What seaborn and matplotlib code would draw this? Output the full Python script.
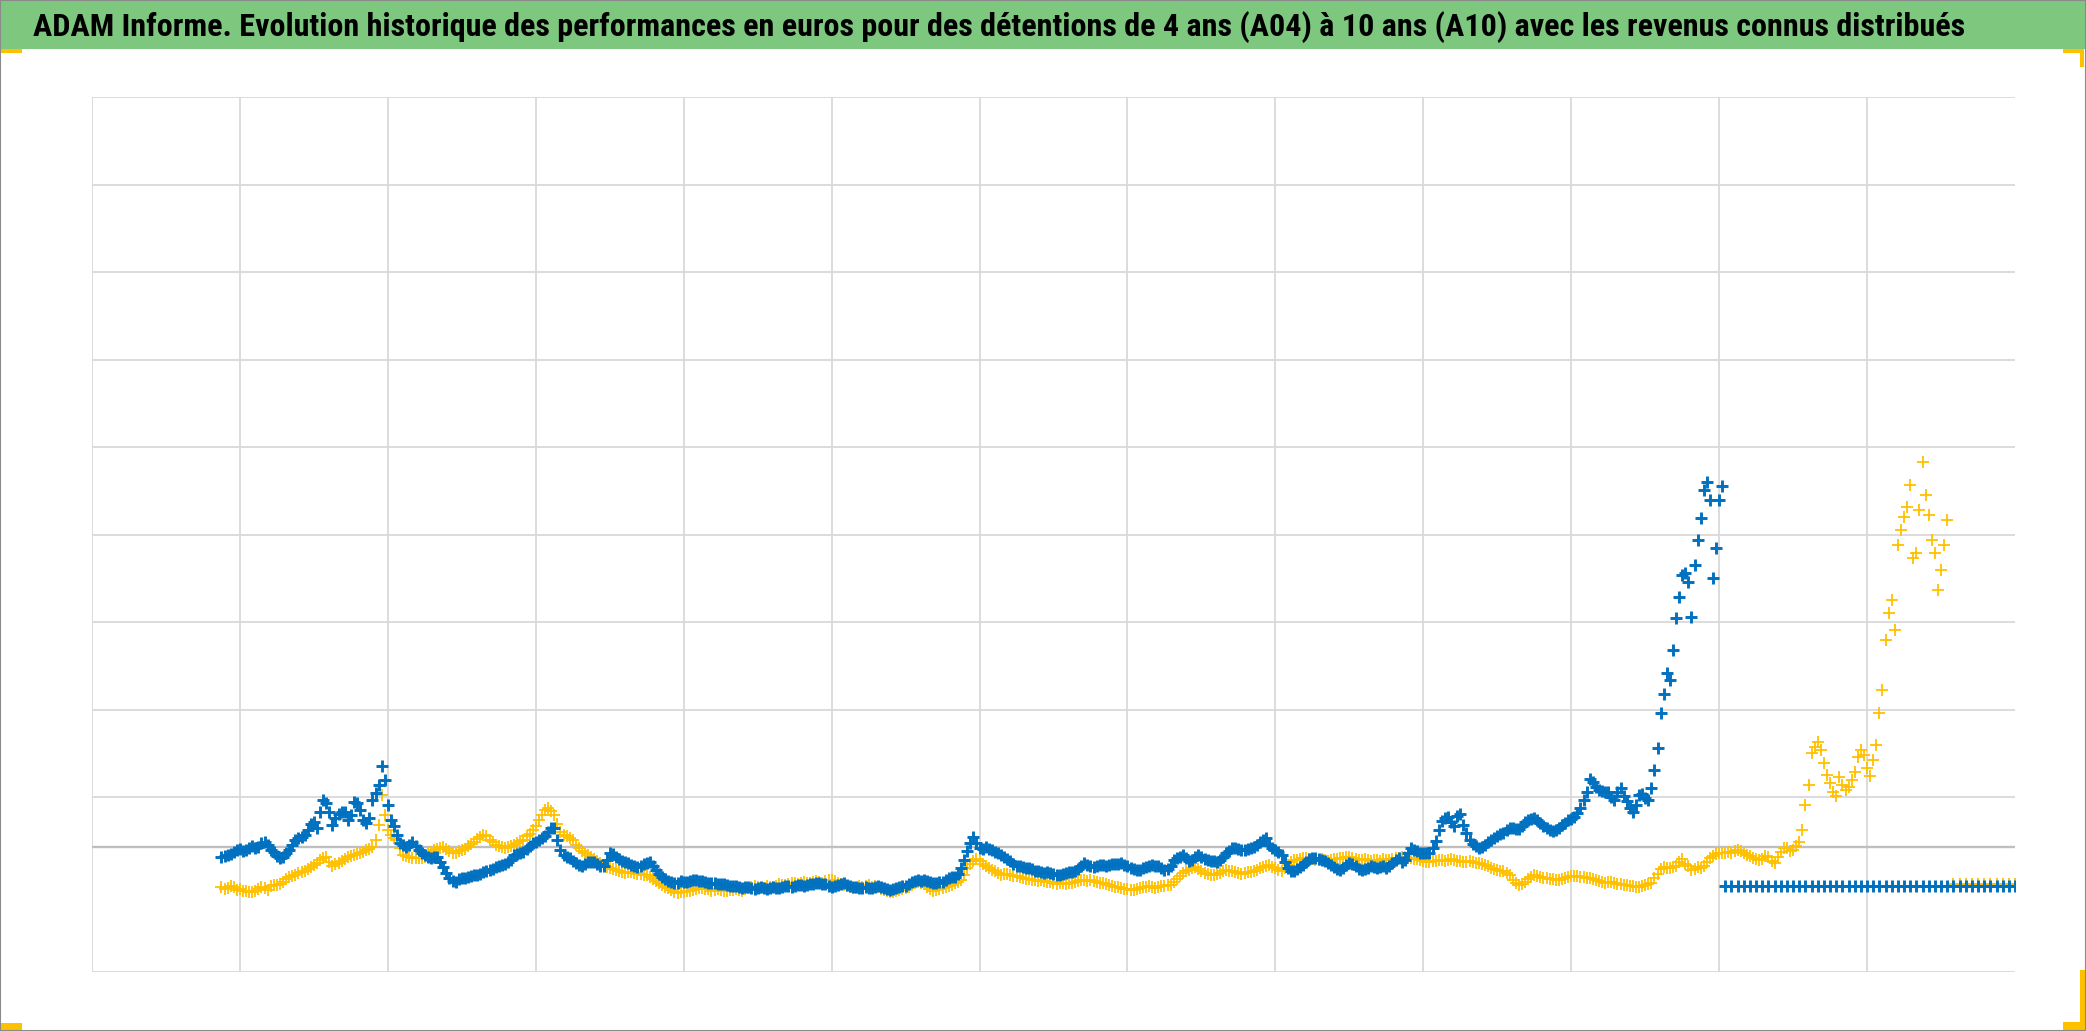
import numpy as np
import pandas as pd
import matplotlib
matplotlib.use("Agg")
import matplotlib.pyplot as plt
import seaborn as sns
from matplotlib import font_manager
from matplotlib.patches import Rectangle

TITLE = ("ADAM Informe. Evolution historique des performances en euros pour des "
         "détentions de 4 ans (A04) à 10 ans (A10) avec les revenus connus distribués")

# series sampled twice a month, first month = October 1999 (decimal years)
START_YEAR = 1999.75

# A04 (blue) : 4-year holding performance, start of each month
a04_values = [
    1.31, 1.34, 1.37, 1.41, 1.39, 1.44, 1.43, 1.49, 1.39, 1.33,
    1.31, 1.39, 1.51, 1.54, 1.62, 1.71, 1.83, 1.93, 1.68, 1.81,
    1.83, 1.79, 1.93, 1.74, 1.76, 2.05, 2.35, 1.91, 1.67, 1.47,
    1.43, 1.49, 1.39, 1.34, 1.30, 1.31, 1.20, 1.07, 1.03, 1.07,
    1.09, 1.11, 1.12, 1.15, 1.18, 1.21, 1.23, 1.28, 1.35, 1.37,
    1.44, 1.49, 1.53, 1.60, 1.65, 1.39, 1.31, 1.27, 1.22, 1.23,
    1.26, 1.23, 1.21, 1.36, 1.31, 1.27, 1.25, 1.21, 1.21, 1.25,
    1.21, 1.12, 1.06, 1.03, 1.02, 1.03, 1.04, 1.05, 1.04, 1.02,
    1.02, 1.01, 0.99, 0.98, 0.97, 0.97, 0.96, 0.96, 0.96, 0.96,
    0.96, 0.97, 0.98, 0.98, 0.99, 0.99, 1.01, 1.02, 1.01, 0.97,
    0.99, 1.02, 0.98, 0.97, 0.96, 0.96, 0.97, 0.97, 0.95, 0.95,
    0.97, 0.98, 1.03, 1.05, 1.05, 1.03, 1.02, 1.03, 1.07, 1.09,
    1.19, 1.38, 1.54, 1.42, 1.43, 1.39, 1.36, 1.31, 1.27, 1.21,
    1.20, 1.19, 1.15, 1.14, 1.14, 1.12, 1.11, 1.13, 1.14, 1.18,
    1.25, 1.21, 1.21, 1.22, 1.22, 1.23, 1.25, 1.21, 1.18, 1.17,
    1.20, 1.22, 1.21, 1.17, 1.21, 1.30, 1.34, 1.27, 1.31, 1.31,
    1.28, 1.27, 1.28, 1.36, 1.42, 1.41, 1.39, 1.42, 1.45, 1.51,
    1.45, 1.39, 1.34, 1.19, 1.15, 1.20, 1.26, 1.30, 1.29, 1.27,
    1.22, 1.18, 1.19, 1.25, 1.21, 1.17, 1.19, 1.20, 1.20, 1.19,
    1.25, 1.30, 1.28, 1.42, 1.38, 1.36, 1.36, 1.50, 1.73, 1.77,
    1.67, 1.81, 1.59, 1.46, 1.42, 1.45, 1.51, 1.55, 1.59, 1.65,
    1.63, 1.67, 1.74, 1.76, 1.70, 1.65, 1.61, 1.65, 1.70, 1.75,
    1.82, 1.97, 2.21, 2.11, 2.07, 2.06, 1.97, 2.10, 1.95, 1.83,
    2.02, 1.99, 2.10, 2.56, 3.18, 3.34, 4.05, 4.54, 4.46, 4.65,
    5.19, 5.60, 4.50, 5.39,
]
# A04, middle of each month
a04_mid = [
    1.33, 1.35, 1.40, 1.38, 1.42, 1.42, 1.47, 1.45, 1.37, 1.30,
    1.36, 1.45, 1.53, 1.57, 1.69, 1.65, 1.97, 1.83, 1.76, 1.83,
    1.74, 1.94, 1.85, 1.70, 1.97, 2.14, 2.19, 1.74, 1.57, 1.45,
    1.45, 1.44, 1.36, 1.31, 1.31, 1.26, 1.13, 1.04, 1.06, 1.07,
    1.10, 1.11, 1.14, 1.17, 1.20, 1.22, 1.26, 1.34, 1.36, 1.41,
    1.47, 1.51, 1.55, 1.65, 1.51, 1.34, 1.30, 1.25, 1.21, 1.26,
    1.26, 1.21, 1.28, 1.35, 1.29, 1.26, 1.22, 1.20, 1.23, 1.26,
    1.17, 1.09, 1.04, 1.02, 1.04, 1.03, 1.05, 1.04, 1.03, 1.02,
    1.01, 1.01, 0.98, 0.98, 0.96, 0.97, 0.95, 0.97, 0.95, 0.97,
    0.96, 0.98, 0.97, 0.99, 0.98, 1.01, 1.02, 1.01, 0.98, 0.98,
    1.01, 0.99, 0.97, 0.96, 0.97, 0.96, 0.98, 0.96, 0.94, 0.96,
    0.98, 1.01, 1.04, 1.04, 1.04, 1.02, 1.03, 1.05, 1.09, 1.12,
    1.28, 1.47, 1.47, 1.41, 1.41, 1.37, 1.34, 1.29, 1.23, 1.21,
    1.19, 1.18, 1.15, 1.13, 1.13, 1.11, 1.12, 1.14, 1.15, 1.21,
    1.22, 1.20, 1.22, 1.21, 1.23, 1.23, 1.22, 1.19, 1.17, 1.19,
    1.21, 1.21, 1.19, 1.18, 1.28, 1.31, 1.30, 1.28, 1.34, 1.29,
    1.27, 1.26, 1.31, 1.38, 1.42, 1.39, 1.41, 1.43, 1.49, 1.53,
    1.42, 1.37, 1.26, 1.15, 1.18, 1.22, 1.29, 1.30, 1.28, 1.25,
    1.20, 1.17, 1.22, 1.23, 1.18, 1.18, 1.21, 1.19, 1.21, 1.21,
    1.28, 1.26, 1.36, 1.39, 1.36, 1.36, 1.42, 1.62, 1.76, 1.71,
    1.78, 1.68, 1.51, 1.44, 1.43, 1.49, 1.53, 1.58, 1.62, 1.65,
    1.63, 1.71, 1.75, 1.74, 1.67, 1.62, 1.62, 1.68, 1.74, 1.77,
    1.87, 2.06, 2.17, 2.08, 2.06, 2.00, 2.06, 2.01, 1.87, 1.91,
    2.03, 1.97, 2.31, 2.96, 3.42, 3.68, 4.29, 4.56, 4.06, 4.94,
    5.51, 5.39, 4.85, 5.55,
]
# A04 after the series stops (constant level drawn to the end)
a04_tail = [
    0.98, 0.98, 0.98, 0.98, 0.98, 0.98, 0.98, 0.98, 0.98, 0.98, 0.98, 0.98,
    0.98, 0.98, 0.98, 0.98, 0.98, 0.98, 0.98, 0.98, 0.98, 0.98, 0.98, 0.98,
    0.98, 0.98, 0.98, 0.98, 0.98, 0.98, 0.98, 0.98, 0.98, 0.98, 0.98, 0.98,
    0.98, 0.98, 0.98, 0.98, 0.98, 0.98, 0.98, 0.98, 0.98, 0.98, 0.98, 0.98,
]

# A10 (gold) : 10-year holding performance, start of each month
a10_values = [
    0.97, 0.96, 0.97, 0.95, 0.93, 0.91, 0.95, 0.96, 0.98, 0.99,
    1.03, 1.09, 1.11, 1.14, 1.18, 1.22, 1.28, 1.31, 1.21, 1.25,
    1.29, 1.33, 1.35, 1.37, 1.41, 1.51, 2.02, 1.62, 1.53, 1.42,
    1.33, 1.30, 1.30, 1.31, 1.37, 1.41, 1.43, 1.38, 1.36, 1.39,
    1.44, 1.49, 1.54, 1.55, 1.49, 1.44, 1.42, 1.44, 1.47, 1.51,
    1.58, 1.67, 1.79, 1.87, 1.79, 1.60, 1.55, 1.51, 1.42, 1.36,
    1.31, 1.27, 1.22, 1.19, 1.17, 1.14, 1.14, 1.13, 1.12, 1.11,
    1.06, 1.02, 0.97, 0.94, 0.90, 0.91, 0.93, 0.95, 0.96, 0.95,
    0.94, 0.94, 0.93, 0.94, 0.94, 0.95, 0.97, 0.97, 0.96, 0.97,
    0.98, 0.99, 1.01, 1.02, 1.02, 1.02, 1.03, 1.03, 1.04, 1.05,
    1.02, 0.99, 0.97, 0.96, 0.97, 0.99, 0.98, 0.95, 0.93, 0.91,
    0.94, 0.96, 0.99, 1.03, 1.01, 0.95, 0.94, 0.96, 0.98, 1.02,
    1.05, 1.19, 1.27, 1.27, 1.21, 1.17, 1.13, 1.12, 1.11, 1.10,
    1.07, 1.06, 1.05, 1.05, 1.03, 1.02, 1.02, 1.01, 1.02, 1.04,
    1.05, 1.05, 1.03, 1.02, 0.99, 0.97, 0.96, 0.95, 0.94, 0.96,
    0.97, 0.97, 0.97, 0.98, 0.99, 1.06, 1.13, 1.17, 1.20, 1.15,
    1.12, 1.11, 1.13, 1.17, 1.15, 1.13, 1.13, 1.14, 1.17, 1.20,
    1.22, 1.19, 1.15, 1.22, 1.28, 1.29, 1.30, 1.29, 1.28, 1.28,
    1.28, 1.29, 1.30, 1.31, 1.29, 1.28, 1.28, 1.28, 1.27, 1.28,
    1.29, 1.30, 1.31, 1.30, 1.29, 1.27, 1.26, 1.27, 1.28, 1.28,
    1.28, 1.27, 1.26, 1.26, 1.25, 1.22, 1.19, 1.17, 1.15, 1.11,
    1.02, 1.01, 1.06, 1.11, 1.09, 1.07, 1.06, 1.05, 1.07, 1.10,
    1.10, 1.09, 1.07, 1.05, 1.03, 1.03, 1.02, 1.01, 0.99, 0.98,
    0.97, 0.99, 1.02, 1.12, 1.20, 1.19, 1.21, 1.29, 1.21, 1.18,
    1.19, 1.26, 1.33, 1.36, 1.36, 1.36, 1.39, 1.36, 1.33, 1.29,
    1.29, 1.31, 1.25, 1.37, 1.42, 1.39, 1.49, 1.91, 2.50, 2.63,
    2.39, 2.16, 2.01, 2.14, 2.11, 2.29, 2.54, 2.33, 2.42, 2.96,
    3.79, 4.25, 4.88, 5.20, 5.57, 4.79, 5.83, 5.22, 4.79, 4.59,
    5.17,
]
# A10, middle of each month
a10_mid = [
    0.95, 0.98, 0.94, 0.93, 0.92, 0.93, 0.97, 0.94, 1.00, 1.01,
    1.06, 1.10, 1.13, 1.16, 1.20, 1.25, 1.30, 1.26, 1.23, 1.27,
    1.31, 1.34, 1.36, 1.39, 1.43, 1.68, 1.79, 1.57, 1.51, 1.34,
    1.31, 1.30, 1.30, 1.35, 1.39, 1.42, 1.41, 1.36, 1.38, 1.41,
    1.46, 1.52, 1.57, 1.51, 1.45, 1.43, 1.43, 1.45, 1.50, 1.55,
    1.62, 1.74, 1.85, 1.84, 1.69, 1.57, 1.53, 1.45, 1.38, 1.34,
    1.29, 1.25, 1.20, 1.18, 1.15, 1.13, 1.14, 1.12, 1.11, 1.09,
    1.04, 0.99, 0.96, 0.91, 0.91, 0.93, 0.94, 0.96, 0.95, 0.93,
    0.95, 0.93, 0.94, 0.95, 0.93, 0.96, 0.98, 0.96, 0.98, 0.97,
    1.01, 0.99, 1.02, 1.01, 1.03, 1.02, 1.04, 1.02, 1.05, 1.04,
    1.01, 0.98, 0.96, 0.98, 0.98, 0.97, 0.97, 0.94, 0.91, 0.93,
    0.95, 0.97, 1.02, 1.02, 0.97, 0.93, 0.95, 0.97, 0.99, 1.03,
    1.11, 1.23, 1.29, 1.23, 1.19, 1.15, 1.11, 1.12, 1.10, 1.09,
    1.06, 1.05, 1.04, 1.04, 1.03, 1.01, 1.02, 1.02, 1.03, 1.05,
    1.04, 1.04, 1.02, 1.01, 0.98, 0.97, 0.95, 0.94, 0.95, 0.97,
    0.98, 0.96, 0.98, 0.99, 1.03, 1.10, 1.15, 1.19, 1.18, 1.13,
    1.11, 1.12, 1.15, 1.15, 1.14, 1.12, 1.14, 1.15, 1.19, 1.21,
    1.20, 1.17, 1.19, 1.26, 1.28, 1.30, 1.29, 1.28, 1.29, 1.27,
    1.29, 1.30, 1.31, 1.30, 1.28, 1.29, 1.27, 1.28, 1.29, 1.28,
    1.30, 1.31, 1.30, 1.29, 1.28, 1.26, 1.27, 1.28, 1.27, 1.29,
    1.27, 1.26, 1.27, 1.25, 1.23, 1.21, 1.18, 1.15, 1.13, 1.05,
    0.99, 1.03, 1.09, 1.10, 1.07, 1.06, 1.05, 1.06, 1.09, 1.10,
    1.09, 1.07, 1.06, 1.04, 1.02, 1.03, 1.01, 0.99, 0.98, 0.97,
    0.98, 1.01, 1.07, 1.18, 1.19, 1.20, 1.26, 1.23, 1.17, 1.20,
    1.21, 1.30, 1.35, 1.36, 1.37, 1.38, 1.38, 1.34, 1.30, 1.28,
    1.33, 1.27, 1.31, 1.42, 1.38, 1.44, 1.62, 2.14, 2.57, 2.54,
    2.25, 2.06, 2.23, 2.08, 2.19, 2.46, 2.48, 2.24, 2.59, 3.22,
    4.10, 3.91, 5.05, 5.31, 4.73, 5.28, 5.45, 4.94, 4.37, 4.88,
]
a10_tail = [1.01, 1.01, 1.01, 1.01, 1.01, 1.01, 1.01, 1.01, 1.01, 1.01, 1.01]

# axis frame values
X_MIN, X_MAX = 1998, 2024
Y_MIN, Y_MAX = 0, 10
X_GRID = [1998, 2000, 2002, 2004, 2006, 2008, 2010, 2012, 2014, 2016, 2018, 2020, 2022]
Y_GRID = [0, 2, 3, 4, 5, 6, 7, 8, 9, 10]
AXIS_CROSS = 10 / 7

BLUE = "#0070C0"
GOLD = "#FFC000"
GREEN = "#7DC77F"


def month_dates(n, offset=0.0):
    return START_YEAR + (np.arange(n) + offset) / 12.0


def build(values, mids, tail):
    n = len(values)
    dates = np.concatenate([month_dates(n), month_dates(len(mids), 0.5),
                            month_dates(len(tail)) + n / 12.0])
    vals = list(values) + list(mids) + list(tail)
    return pd.DataFrame({"date": dates, "value": vals}).sort_values("date")


a04_df = build(a04_values, a04_mid, a04_tail)
a10_df = build(a10_values, a10_mid, a10_tail)

sns.set_theme(style="white")
names = {f.name for f in font_manager.fontManager.ttflist}
title_font = "DejaVu Sans"
for cand in ["Liberation Sans Narrow", "DejaVu Sans Condensed", "Roboto Condensed",
             "Open Sans Condensed", "Liberation Sans", "DejaVu Sans"]:
    if cand in names:
        title_font = cand
        break
plt.rcParams["font.family"] = [title_font, "DejaVu Sans"]

W, H = 2086, 1031
fig = plt.figure(figsize=(W / 100, H / 100), dpi=100)
fig.patch.set_facecolor("white")

ax = fig.add_axes([92 / W, (H - 972) / H, (2015 - 92) / W, (972 - 97) / H])
ax.set_xlim(X_MIN, X_MAX)
ax.set_ylim(Y_MIN, Y_MAX)
ax.set_xticks(X_GRID)
ax.set_yticks(Y_GRID)
ax.tick_params(length=0, labelbottom=False, labelleft=False)
ax.grid(True, color="#D9D9D9", linewidth=1.3, zorder=0)
ax.set_axisbelow(True)
for s in ax.spines.values():
    s.set_visible(False)
ax.axhline(AXIS_CROSS, color="#BFBFBF", linewidth=1.7, zorder=1)

sns.scatterplot(data=a10_df, x="date", y="value", marker="+", s=78,
                linewidth=1.3, color=GOLD, ax=ax, zorder=3, legend=False)
sns.scatterplot(data=a04_df, x="date", y="value", marker="+", s=64,
                linewidth=2.1, color=BLUE, ax=ax, zorder=4, legend=False)
ax.set_xlabel("")
ax.set_ylabel("")
ax.set_xlim(X_MIN, X_MAX)
ax.set_ylim(Y_MIN, Y_MAX)

# title band
fig.patches.append(Rectangle((0, 1 - 49 / H), 1, 49 / H, transform=fig.transFigure,
                             facecolor=GREEN, edgecolor="none", zorder=0))
t = fig.text(33 / W, 1 - 36 / H, TITLE, ha="left", va="baseline", fontsize=24,
             fontweight="bold", color="black", family=[title_font, "DejaVu Sans"])
fig.canvas.draw()
bb = t.get_window_extent(renderer=fig.canvas.get_renderer())
t.set_fontsize(24 * (1979 - 33) / bb.width)


def px_rect(x0, y0, x1, y1, color):
    fig.patches.append(Rectangle((x0 / W, 1 - y1 / H), (x1 - x0) / W, (y1 - y0) / H,
                                 transform=fig.transFigure, facecolor=color,
                                 edgecolor="none", zorder=5))


# corner handles
px_rect(0, 49, 22, 53, GOLD)
px_rect(2063, 49, 2084, 53, GOLD)
px_rect(2080, 49, 2084, 67, GOLD)
px_rect(0, 1023, 22, 1030, GOLD)
px_rect(2063, 1022, 2085, 1030, GOLD)
px_rect(2080, 970, 2085, 1030, GOLD)

# outer frame
fig.patches.append(Rectangle((0, 0), 1, 1, transform=fig.transFigure, fill=False,
                             edgecolor="#8A8A8A", linewidth=1.5, zorder=6))

fig.savefig("out.png", dpi=100)
